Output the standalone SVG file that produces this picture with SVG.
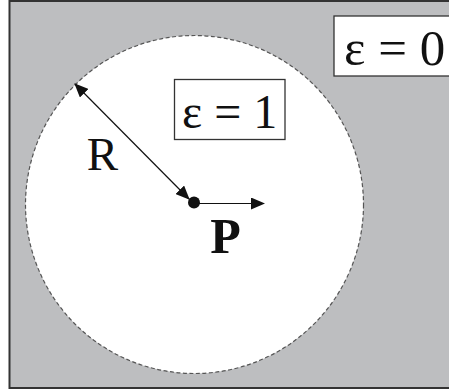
<svg xmlns="http://www.w3.org/2000/svg" width="449" height="392" viewBox="0 0 449 392">
<style>
.lbl{font-family:"Liberation Serif","Times New Roman",serif;fill:#111}
.box{fill:#fff;stroke:#333;stroke-width:1.3}
.conn{stroke:#111;stroke-width:1.2;fill:none}
</style>
<defs>
<marker id="ah" viewBox="0 0 14 12" refX="13" refY="6" markerWidth="14" markerHeight="12" markerUnits="userSpaceOnUse" orient="auto-start-reverse">
<path d="M0,0 L14,6 L0,12 Z" fill="#111"/>
</marker>
</defs>
<g id="background">
<rect x="9.5" y="1" width="445" height="387" fill="#bdbec0" stroke="#333" stroke-width="2"/>
</g>
<g id="region-circle">
<circle cx="194.5" cy="204.5" r="169" fill="#fff" stroke="#555" stroke-width="1.2" stroke-dasharray="4 2.5"/>
</g>
<g id="label-eps0">
<rect class="box" x="334" y="16" width="118" height="60"/>
<text class="lbl" x="344" y="65" font-size="51">ε = 0</text>
</g>
<g id="label-eps1">
<rect class="box" x="174.5" y="79.5" width="110.5" height="60"/>
<text class="lbl" x="182" y="127.5" font-size="48">ε = 1</text>
</g>
<g id="connectors">
<line class="conn" x1="75" y1="84" x2="189" y2="199" marker-start="url(#ah)" marker-end="url(#ah)"/>
<line class="conn" x1="194" y1="203.5" x2="264" y2="203.5" marker-end="url(#ah)"/>
</g>
<g id="point-P">
<circle cx="194" cy="202.5" r="6" fill="#111"/>
<text class="lbl" x="225.5" y="253" font-size="50" font-weight="bold" text-anchor="middle">P</text>
</g>
<g id="label-R">
<text class="lbl" x="102.5" y="170" font-size="47" text-anchor="middle">R</text>
</g>
</svg>
